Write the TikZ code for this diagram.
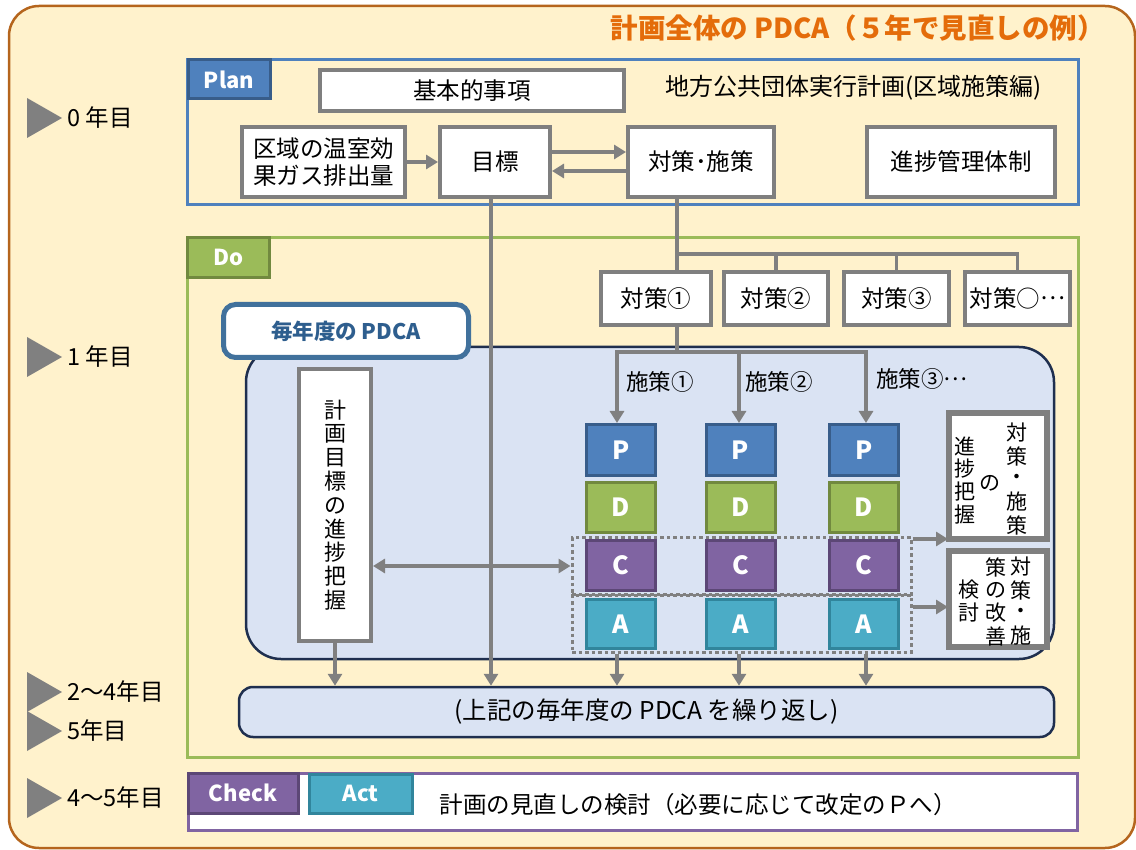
\documentclass[tikz,border=0pt]{standalone}
\usepackage{fontspec}
\setmainfont{Noto Sans CJK JP}
\usetikzlibrary{arrows.meta,calc}
\definecolor{bgfill}{HTML}{FFF2CC}
\definecolor{bgline}{HTML}{B5651D}
\definecolor{ttl}{HTML}{E46C0A}
\definecolor{pblue}{HTML}{4F81BD}
\definecolor{pbluedk}{HTML}{385D8A}
\definecolor{dgreen}{HTML}{9BBB59}
\definecolor{dgreendk}{HTML}{71893F}
\definecolor{cpurple}{HTML}{8064A2}
\definecolor{cpurpledk}{HTML}{5C4776}
\definecolor{ateal}{HTML}{4BACC6}
\definecolor{atealdk}{HTML}{31859C}
\definecolor{lgray}{HTML}{808080}
\definecolor{boxgray}{HTML}{7F7F7F}
\definecolor{lblue}{HTML}{DAE3F3}
\definecolor{navy}{HTML}{1F2F4F}
\definecolor{pdcablue}{HTML}{41719C}
\definecolor{pdcatext}{HTML}{2E5E8E}
\newcommand{\midell}{\raisebox{0.32em}{…}}
\begin{document}
\begin{tikzpicture}[x=1pt,y=-1pt,
  txt/.style={inner sep=0pt, font=\fontsize{24}{28}\selectfont},
  wbox/.style={draw=boxgray, line width=4pt, fill=white, inner sep=0pt, align=center, font=\fontsize{23.5}{28}\selectfont},
  frame/.style={line width=3pt, inner sep=0pt},
  tag/.style={line width=3pt, inner sep=0pt, text=white, font=\bfseries\fontsize{22}{26}\selectfont},
  letter/.style={line width=3pt, inner sep=0pt, text=white, minimum width=69pt, font=\bfseries\fontsize{25}{28}\selectfont},
  dotbox/.style={draw=lgray, line width=3pt, dash pattern=on 3.5pt off 3pt, inner sep=0pt},
  conn/.style={draw=lgray, line width=3.2pt},
  arr/.style={conn, -{Triangle[length=12pt,width=14pt]}},
  darr/.style={conn, {Triangle[length=12pt,width=14pt]}-{Triangle[length=12pt,width=14pt]}},
  yeartext/.style={anchor=west, inner sep=0pt, font=\fontsize{23.5}{27}\selectfont},
  vchar/.style={inner sep=0pt, font=\fontsize{21}{21}\selectfont},
]
\useasboundingbox (0,0) rectangle (1136,850);
% outer background
\draw[draw=bgline, fill=bgfill, line width=2.5pt, rounded corners=30pt] (9,6) rectangle (1135,848);
\node[anchor=east, inner sep=0pt, text=ttl, font=\bfseries\fontsize{27.5}{32}\selectfont] (title) at (1105,28) {計画全体の PDCA（５年で見直しの例）};

% year marks
\foreach \yy/\lab [count=\i] in {118/0 年目, 357/1 年目, 692/2～4年目, 731/5年目, 798/4～5年目}{
  \fill[lgray] (27,\yy-20) -- (62,\yy) -- (27,\yy+20) -- cycle;
  \node[yeartext] (year\i) at (67,\yy) {\lab};
}

% Plan
\node[frame, draw=pblue, minimum width=891pt, minimum height=145pt] (planf) at (632.5,132.5) {};
\node[tag, fill=pblue, draw=pbluedk, minimum width=82pt, minimum height=39pt] (plantag) at (229,79.5) {Plan};
\node[wbox, minimum width=304pt, minimum height=41pt] (kihon) at (472,91) {基本的事項};
\node[txt, anchor=west] (jikko) at (665,88) {地方公共団体実行計画(区域施策編)};
\node[wbox, minimum width=163pt, minimum height=70pt, font=\fontsize{23.5}{27}\selectfont] (kuiki) at (323.5,162) {区域の温室効\\果ガス排出量};
\node[wbox, minimum width=110pt, minimum height=70pt] (goal) at (495,162) {目標};
\node[wbox, minimum width=146pt, minimum height=70pt] (meas) at (701,162) {対策･施策};
\node[wbox, minimum width=188pt, minimum height=70pt] (shin) at (961,162) {進捗管理体制};
\draw[arr] (kuiki.east) -- (goal.west);
\draw[arr] ([yshift=10pt]goal.east) -- ([yshift=10pt]meas.west);
\draw[arr] ([yshift=-9pt]meas.west) -- ([yshift=-9pt]goal.east);

% Do
\node[frame, draw=dgreen, minimum width=891pt, minimum height=520pt] (dof) at (632.5,497.5) {};
\node[tag, fill=dgreen, draw=dgreendk, minimum width=82pt, minimum height=40pt] (dotag) at (228.5,257.5) {Do};

\node[wbox, minimum width=110pt, minimum height=53pt] (t1) at (656,298.5) {対策①};
\node[wbox, minimum width=104pt, minimum height=53pt] (t2) at (776,298.5) {対策②};
\node[wbox, minimum width=105pt, minimum height=53pt] (t3) at (896.5,298.5) {対策③};
\node[wbox, minimum width=105pt, minimum height=53pt] (t4) at (1017.5,298.5) {対策○\midell};

\coordinate (mx) at (677,0);
\coordinate (by) at (0,254);
\coordinate (gx) at (491,0);
\draw[conn] (mx |- meas.south) -- (mx |- t1.north);
\draw[conn] (mx |- by) -| (t4.north);
\draw[conn] (t2.north |- by) -- (t2.north);
\draw[conn] (t3.north |- by) -- (t3.north);

% yearly PDCA area
\node[draw=navy, fill=lblue, line width=2.5pt, rounded corners=35pt, minimum width=808pt, minimum height=312pt] (yearbox) at (650,503) {};
\node[draw=pdcablue, fill=white, line width=5pt, rounded corners=12pt, minimum width=245pt, minimum height=53pt, text=pdcatext, inner sep=0pt, font=\bfseries\fontsize{21.5}{25}\selectfont] (pdcatag) at (346,331) {毎年度の PDCA};

\node[wbox, minimum width=72pt, minimum height=272pt, font=\fontsize{22}{23.8}\selectfont] (keikaku) at (335,505) {計\\画\\目\\標\\の\\進\\捗\\把\\握};

\node[rounded corners=14pt, draw=navy, fill=lblue, line width=2.5pt, minimum width=815pt, minimum height=50pt, inner sep=0pt, font=\fontsize{24.5}{28}\selectfont] (rep) at (646.5,712) {(上記の毎年度の PDCA を繰り返し)};

\draw[arr] (gx |- goal.south) -- (gx |- rep.north);

\foreach \n/\x in {1/621, 2/740.5, 3/864}{
  \node[letter, fill=pblue, draw=pbluedk, minimum height=51pt] (p\n) at (\x,450) {P};
  \node[letter, fill=dgreen, draw=dgreendk, minimum height=50pt] (d\n) at (\x,507.5) {D};
  \node[letter, fill=cpurple, draw=cpurpledk, minimum height=50pt] (c\n) at (\x,565.5) {C};
  \node[letter, fill=ateal, draw=atealdk, minimum height=49pt] (a\n) at (\x,624) {A};
}
\node[dotbox, minimum width=339pt, minimum height=57pt] (dotc) at (741.5,566) {};
\node[dotbox, minimum width=339pt, minimum height=57pt] (dota) at (741.5,623.5) {};

\coordinate (hy) at (0,352);
\coordinate (x1) at (617,0);
\coordinate (x2) at (739,0);
\coordinate (x3) at (866,0);
\draw[conn] (mx |- t1.south) -- (mx |- hy);
\draw[arr] (mx |- hy) -| (x1 |- p1.north);
\draw[arr] (mx |- hy) -| (x3 |- p3.north);
\draw[arr] (x2 |- hy) -- (x2 |- p2.north);
\node[txt, anchor=west, font=\fontsize{22.5}{26}\selectfont] (s1) at (626,382) {施策①};
\node[txt, anchor=west, font=\fontsize{22.5}{26}\selectfont] (s2) at (745,382) {施策②};
\node[txt, anchor=west, font=\fontsize{22.5}{26}\selectfont] (s3) at (876,379) {施策③\midell};

% right boxes
\node[wbox, minimum width=96pt, minimum height=124pt] (rb1) at (998,476) {};
\node[wbox, minimum width=96pt, minimum height=94pt] (rb2) at (998,599) {};
\begin{scope}
  \clip (rb1.north west) rectangle (rb1.south east);
  \foreach \c/\x/\y [count=\i] in {対/1017/433, 策/1017/456, ・/1017/479, 施/1017/502, 策/1017/525, の/990/483, 進/965/446, 捗/965/469, 把/965/492, 握/965/515}
    \node[vchar] (va\i) at (\x,\y) {\c};
\end{scope}
\begin{scope}
  \clip (rb2.north west) rectangle (rb2.south east);
  \foreach \c/\x/\y [count=\i] in {対/1021/567, 策/1021/590, ・/1021/613, 施/1021/636, 策/996/567, の/996/590, 改/996/613, 善/996/636, 検/969/590, 討/969/613}
    \node[vchar] (vb\i) at (\x,\y) {\c};
\end{scope}
\draw[boxgray, line width=4pt] (rb1.north west) rectangle (rb1.south east);
\draw[boxgray, line width=4pt] (rb2.north west) rectangle (rb2.south east);

\coordinate (r1y) at (0,539);
\coordinate (r2y) at (0,607);
\draw[arr] (dotc.east |- r1y) -- (rb1.west |- r1y);
\draw[arr] (dota.east |- r2y) -- (rb2.west |- r2y);
\draw[darr] (keikaku.east |- dotc.west) -- (dotc.west);

\draw[arr] (keikaku.south) -- (keikaku.south |- rep.north);
\draw[arr] (x1 |- dota.south) -- (x1 |- rep.north);
\draw[arr] (x2 |- dota.south) -- (x2 |- rep.north);
\draw[arr] (x3 |- dota.south) -- (x3 |- rep.north);

% Check / Act
\node[frame, draw=cpurple, fill=white, minimum width=889pt, minimum height=57pt] (chkf) at (632.5,801.5) {};
\node[tag, fill=cpurple, draw=cpurpledk, minimum width=110pt, minimum height=40pt] (chktag) at (243,793) {Check};
\node[tag, fill=ateal, draw=atealdk, minimum width=103pt, minimum height=39pt] (acttag) at (360.5,793.5) {Act};
\node[txt, font=\fontsize{23.5}{27}\selectfont] (chktxt) at (698,805) {計画の見直しの検討（必要に応じて改定のＰへ）};
\end{tikzpicture}
\end{document}
